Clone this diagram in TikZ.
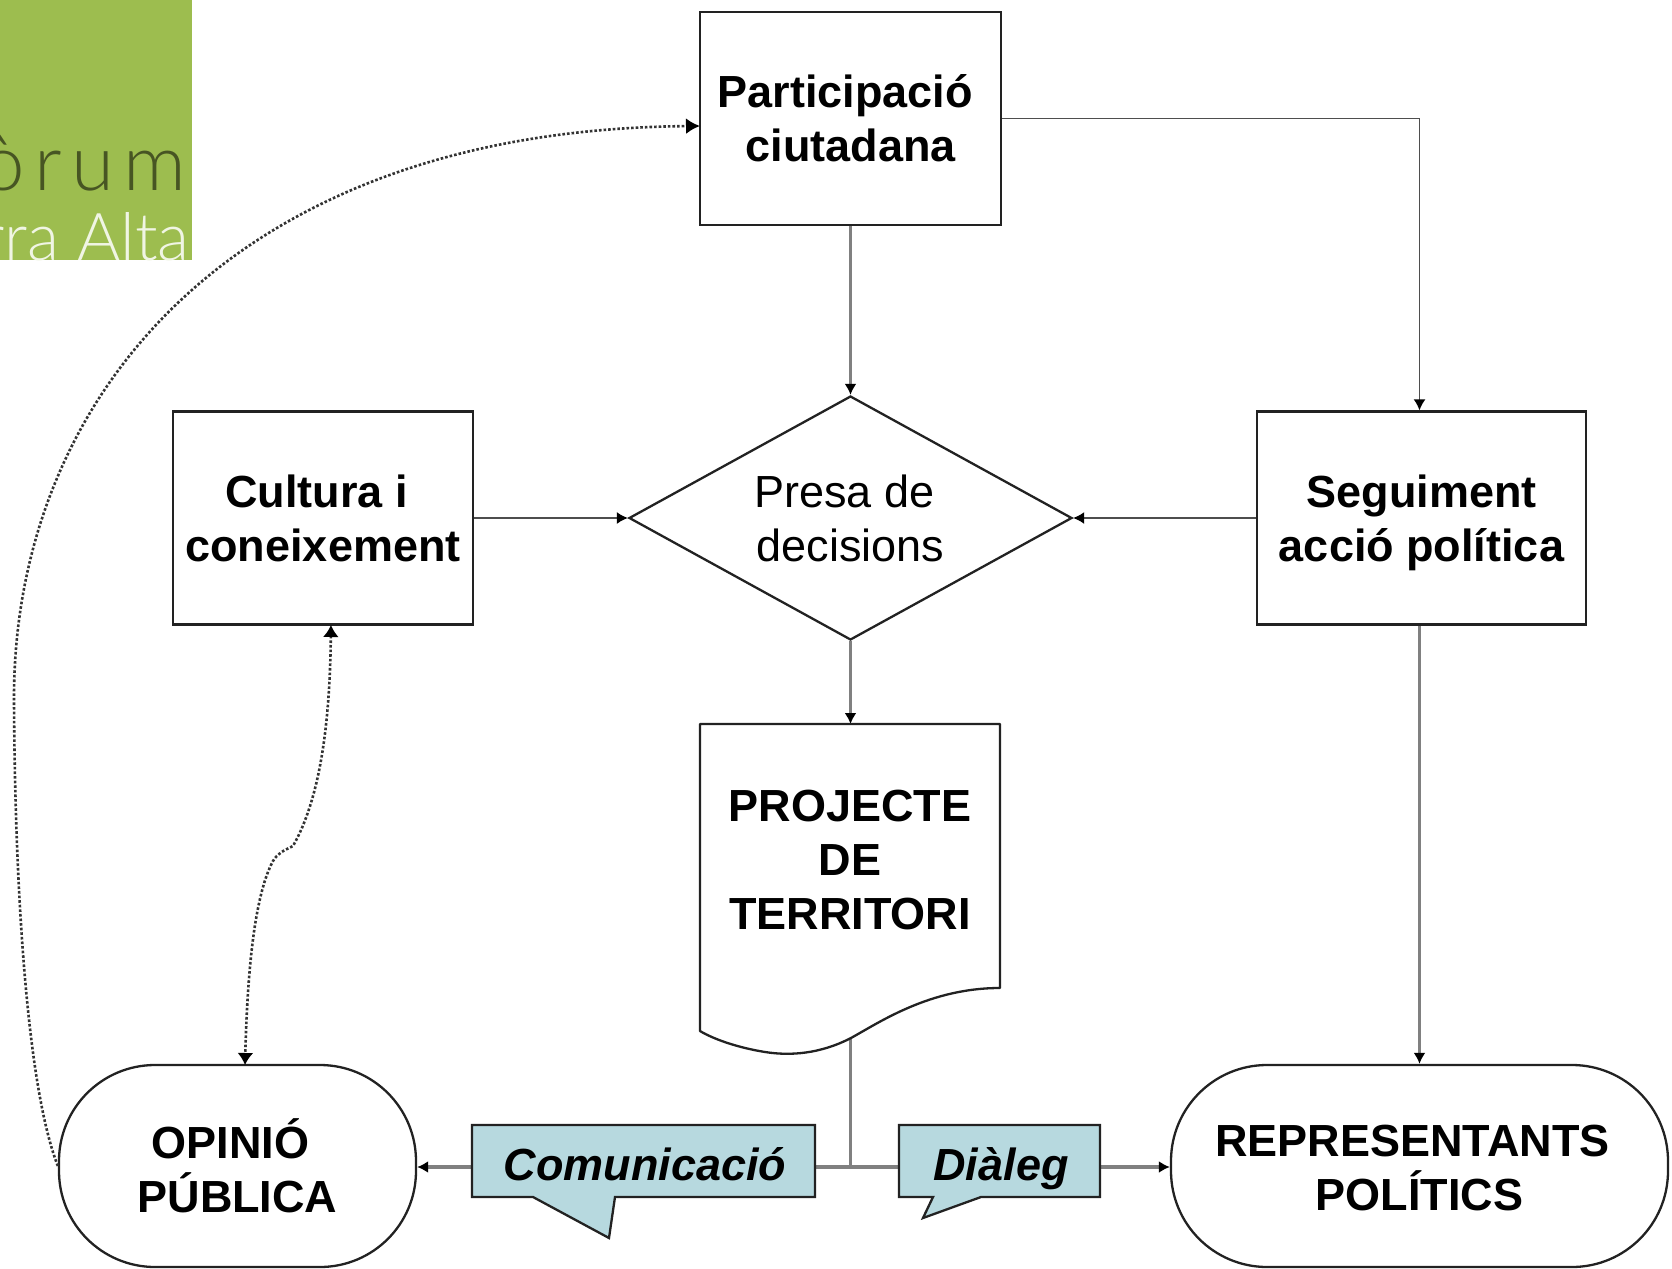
\documentclass[tikz,border=0pt]{standalone}
\usepackage{fontspec}
\setmainfont{Liberation Sans}
\newfontfamily\logofont{Lato Light}
\usetikzlibrary{shapes.geometric,arrows.meta,calc}
\pgfdeclarelayer{bg}
\pgfsetlayers{bg,main}
\definecolor{logogreen}{HTML}{9DBD4F}
\definecolor{calloutblue}{HTML}{B7D9DF}
\definecolor{linegray}{HTML}{808080}
\definecolor{edgedark}{HTML}{222222}
\tikzset{
  x=0.5pt,y=-0.5pt,
  boxline/.style={draw=edgedark,line width=1.15pt,fill=white},
  labeltext/.style={align=center,font=\fontsize{22.5}{27}\selectfont\bfseries,inner sep=0pt},
  plaintext/.style={align=center,font=\fontsize{22.5}{27}\selectfont,inner sep=0pt},
  squarebox/.style={boxline,rectangle,labeltext,minimum height=106.5pt},
  terminal/.style={boxline,rectangle,rounded corners=48pt,labeltext,minimum height=101pt},
  heavy/.style={draw=linegray,line width=1.7pt},
  thin line/.style={draw=edgedark!80,line width=.8pt},
  tipped/.style={-{Latex[black,length=5.5pt,width=6pt]}},
  dotline/.style={draw=black!80,line width=1.3pt,densely dotted},
  callout/.style={draw=edgedark,line width=1.15pt,fill=calloutblue,line join=miter},
  calloutlabel/.style={align=center,font=\fontsize{22.5}{27}\selectfont\bfseries\itshape,inner sep=0pt},
}
\begin{document}
\begin{tikzpicture}
\useasboundingbox (0,0) rectangle (1672,1269);
% logo
\begin{scope}
  \clip (0,0) rectangle (192,260);
  \fill[logogreen] (0,0) rectangle (192,260);
  \node[anchor=base east,inner sep=0pt,text=logogreen!45!black,font=\logofont\fontsize{39}{39}\selectfont\addfontfeature{LetterSpace=12}] (logoa) at (187,190) {òrum};
  \node[anchor=base east,inner sep=0pt,text=logogreen!15!white,font=\logofont\fontsize{33}{33}\selectfont] (logob) at (190,260) {rra Alta};
\end{scope}
% boxes
\node[squarebox,minimum width=150.5pt] (part) at (850.5,118.5) {Participació\hspace*{5.3pt}\\ciutadana};
\node[squarebox,minimum width=150pt] (cult) at (323,518) {Cultura i\hspace*{6.4pt}\\coneixement};
\node[squarebox,minimum width=164.5pt] (segu) at (1421.5,518) {\rule{0pt}{21pt}Seguiment\\acció política};
\node[boxline,diamond,aspect=1.81,minimum width=221.5pt,minimum height=122pt,inner sep=0pt,plaintext] (pres) at (850.5,518) {Presa de\hspace*{6pt}\\decisions};
% document
\draw[boxline,line join=round] (700,724) -- (1000,724) -- (1000,988)
  .. controls (930,988) and (880,1022) .. (851,1038)
  .. controls (820,1054) and (790,1056) .. (765,1052)
  .. controls (740,1048) and (715,1040) .. (700,1031) -- cycle;
\coordinate (doctop) at (850.5,724);
\coordinate (docbot) at (850.5,1038);
\node[labeltext] (proj) at (850,860) {PROJECTE\\DE\\TERRITORI};
% terminals
\node[terminal,minimum width=178.5pt] (opin) at (237.5,1166) {OPINIÓ\hspace*{7pt}\\PÚBLICA};
\node[terminal,minimum width=248.5pt] (repr) at (1419.5,1166) {\rule{0pt}{18pt}REPRESENTANTS\hspace*{7pt}\\POLÍTICS};
% callouts
\draw[callout] (472,1125) -- (815,1125) -- (815,1197) -- (615,1197) -- (609,1238) -- (533,1197) -- (472,1197) -- cycle;
\node[calloutlabel] (comu) at (645,1164) {Comunicació};
\draw[callout] (899,1125) -- (1100,1125) -- (1100,1197) -- (981,1197) -- (923,1218) -- (933,1197) -- (899,1197) -- cycle;
\node[calloutlabel] (dial) at (1001,1169) {Diàleg};
% connector ends
\coordinate (jun) at (850.5,1167);
\coordinate (opintop) at (245,1065);
\coordinate (culbot) at (331,625);
\coordinate (partin) at (700,126);
\begin{pgfonlayer}{bg}
\draw[heavy,tipped] (part.south) -- (pres.north);
\draw[heavy,tipped] (pres.south) -- (doctop);
\draw[heavy,tipped] (repr.north |- segu.south) -- (repr.north);
\draw[thin line,tipped] (part.east) -| (repr.north |- segu.north);
\draw[thin line,tipped] (cult.east) -- (pres.west);
\draw[thin line,tipped] (segu.west) -- (pres.east);
\draw[heavy] (docbot) -- (jun);
\draw[heavy,tipped] (jun) -- (opin.east |- jun);
\draw[heavy,tipped] (jun) -- (repr.west |- jun);
\end{pgfonlayer}
% dotted links
\draw[dotline,{Latex[black,length=6pt,width=8pt]}-{Latex[black,length=6pt,width=8pt]}] (culbot)
  .. controls (330,700) and (325,790) .. (293,846)
  .. controls (283,851) and (278,853) .. (273,861)
  .. controls (252,900) and (247,990) .. (opintop);
\draw[dotline,-{Latex[black,length=7pt,width=8pt]}] (opin.west)
  .. controls (28,1090) and (15,900) .. (14,700)
  .. controls (13,400) and (230,130) .. (partin);
\end{tikzpicture}
\end{document}
